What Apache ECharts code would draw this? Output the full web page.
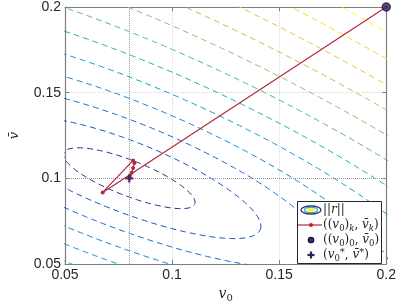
<!DOCTYPE html>
<html><head><meta charset="utf-8">
<script src="https://cdn.jsdelivr.net/npm/echarts@6/dist/echarts.min.js"></script>
<style>html,body{margin:0;padding:0;background:#fff}#c{width:399px;height:308px}</style>
</head><body><div id="c"></div>
<script>
// ---------------- data ----------------
const xTicks = [0.05, 0.1, 0.15, 0.2];          // v0 axis
const yTicks = [0.05, 0.1, 0.15, 0.2];          // vbar axis
// iterates ((v0)_k, vbar_k)
const iterV0   = [0.2, 0.0676, 0.0818, 0.0824, 0.0818, 0.0812, 0.0803, 0.0800];
const iterVbar = [0.2, 0.0918, 0.1105, 0.1090, 0.1061, 0.1033, 0.1014, 0.1002];
// start point ((v0)_0, vbar_0)
const startV0 = [0.2];
const startVbar = [0.2];
// solution (v0*, vbar*)
const trueV0 = [0.08];
const trueVbar = [0.1];
// contour levels of ||r||
const levels = [1, 2, 3, 4, 5, 6, 7, 8, 9, 10, 11, 12];
// model of ||r|| around the solution, estimated from the contour picture
const rowU = [28.55, -8.47];
const rowW = [43.74, 90.06];
const warpQ = 0.011;
const warpX = 0.017;

// ---------------- helpers ----------------
const parulaStops = ['#352A87','#0F5CDD','#1481D6','#06A4CA','#2EB7A4','#87BF77','#D1BB59','#FEC832','#F9FB0E'];
function hex2rgb(h){return [parseInt(h.slice(1,3),16),parseInt(h.slice(3,5),16),parseInt(h.slice(5,7),16)];}
function parula(t){
  t = Math.max(0, Math.min(1, t));
  const n = parulaStops.length - 1;
  const i = Math.min(n - 1, Math.floor(t * n));
  const f = t * n - i;
  const a = hex2rgb(parulaStops[i]), b = hex2rgb(parulaStops[i + 1]);
  const c = a.map((v, k) => Math.round(v + (b[k] - v) * f));
  return 'rgb(' + c.join(',') + ')';
}
// level set ||r|| = L of the model, traced around the solution
function contour(L){
  const a = rowU[0], b = rowU[1], c = rowW[0], d = rowW[1], det = a * d - b * c;
  const pts = [];
  const N = 720;
  for (let j = 0; j <= N; j++){
    const ph = 2 * Math.PI * j / N;
    const U = L * Math.cos(ph), Wh = L * Math.sin(ph);
    const p = 1 + warpX * U;
    const disc = p * p - 4 * warpQ * Wh;
    if (disc < 0) continue;
    const W = (p - Math.sqrt(disc)) / (2 * warpQ);
    const dx = (d * U - b * W) / det, dy = (-c * U + a * W) / det;
    pts.push([trueV0[0] + dx, trueVbar[0] + dy]);
  }
  return pts;
}

const AX = '#7f7f7f', TXT = '#262626', RED = '#b22a3e', NAVY = '#2f2163';
const SERIF = 'DejaVu Serif';
const lmin = Math.min(...levels), lmax = Math.max(...levels);

const series = [];
levels.forEach(L => {
  series.push({
    type: 'line', name: '||r||', data: contour(L), symbol: 'none', silent: true,
    lineStyle: { color: parula((L - lmin) / (lmax - lmin)), width: 1, type: [6, 4] },
    z: 1, animation: false, clip: true
  });
});
series.push({
  type: 'line', data: [], silent: true, z: 3,
  markLine: {
    silent: true, symbol: ['none', 'none'], label: { show: false }, animation: false,
    lineStyle: { color: '#9a9a9a', type: 'dotted', width: 1 },
    data: [{ xAxis: trueV0[0] }, { yAxis: trueVbar[0] }]
  }
});
series.push({
  type: 'line', name: 'iterates', data: iterV0.map((v, i) => [v, iterVbar[i]]),
  symbol: 'circle', symbolSize: 4, showAllSymbol: true,
  lineStyle: { color: RED, width: 1.2 }, itemStyle: { color: RED },
  z: 5, animation: false
});
series.push({
  type: 'scatter', name: 'start', data: startV0.map((v, i) => [v, startVbar[i]]),
  symbol: 'circle', symbolSize: 8, clip: false,
  itemStyle: { color: '#3b2c6b', borderColor: '#1f1540', borderWidth: 1.5 },
  z: 6, animation: false
});
series.push({
  type: 'scatter', name: 'solution', data: trueV0.map((v, i) => [v, trueVbar[i]]),
  symbol: 'path://M2.8,0H5.2V2.8H8V5.2H5.2V8H2.8V5.2H0V2.8H2.8Z', symbolSize: 8,
  itemStyle: { color: NAVY }, z: 6, animation: false
});

function valAxis(pos, ticks, show){
  return {
    type: 'value', position: pos, min: ticks[0], max: ticks[ticks.length - 1],
    interval: ticks[1] - ticks[0],
    axisLine: { show: true, onZero: false, lineStyle: { color: AX, width: 1.2 } },
    axisTick: { show: true, inside: true, length: 4, lineStyle: { color: AX, width: 1 } },
    axisLabel: { show: show, margin: 4, fontSize: 14, color: TXT, fontFamily: 'Liberation Sans' },
    splitLine: { show: show, lineStyle: { color: '#d8d8d8', type: 'dotted', width: 1 } }
  };
}
const xMain = valAxis('bottom', xTicks, true);
xMain.name = '{i|v}{s|0}';
xMain.nameLocation = 'middle';
xMain.nameGap = 20;
xMain.nameTextStyle = { rich: {
  i: { fontFamily: SERIF, fontStyle: 'italic', fontSize: 14, color: TXT, lineHeight: 18 },
  s: { fontFamily: SERIF, fontSize: 10, color: TXT, lineHeight: 10, verticalAlign: 'bottom' }
}};
const yMain = valAxis('left', yTicks, true);
yMain.name = 'v\u0304';
yMain.nameLocation = 'middle';
yMain.nameGap = 44;
yMain.nameRotate = 90;
yMain.nameTextStyle = { fontFamily: SERIF, fontStyle: 'italic', fontSize: 13, color: TXT };

const RN = { fontFamily: SERIF, fontSize: 12, lineHeight: 16, fill: TXT, color: TXT };
const RI = Object.assign({}, RN, { fontStyle: 'italic' });
const RS = { fontFamily: SERIF, fontSize: 8.5, lineHeight: 10, verticalAlign: 'bottom', fill: TXT, color: TXT };
const RSI = Object.assign({}, RS, { fontStyle: 'italic' });
const RP = { fontFamily: SERIF, fontSize: 10, lineHeight: 12, verticalAlign: 'top', fill: TXT, color: TXT };
const legRich = { n: RN, i: RI, s: RS, k: RSI, p: RP };
const legX = 323, icX = 311;
const rows = [210, 225, 240, 255];
function legText(y, t){
  return { type: 'text', z: 102, x: legX, y: y, style: { text: t, rich: legRich, align: 'left', verticalAlign: 'middle', fontFamily: SERIF, fontSize: 12, fill: TXT } };
}

const option = {
  backgroundColor: '#fff',
  animation: false,
  grid: { left: 53, right: 10, top: 7, bottom: 38, containLabel: false },
  xAxis: [xMain, valAxis('top', xTicks, false)],
  yAxis: [yMain, valAxis('right', yTicks, false)],
  series: series,
  graphic: { elements: [
    { type: 'rect', z: 100, shape: { x: 297.5, y: 201.5, width: 84, height: 62 }, style: { fill: '#fff', stroke: '#262626', lineWidth: 1 } },
    { type: 'ellipse', z: 101, shape: { cx: icX, cy: rows[0], rx: 10, ry: 4 }, style: { fill: 'none', stroke: parula(0), lineWidth: 1.3 } },
    { type: 'ellipse', z: 101, shape: { cx: icX, cy: rows[0], rx: 6.5, ry: 2.6 }, style: { fill: 'none', stroke: parula(0.5), lineWidth: 1.3 } },
    { type: 'ellipse', z: 101, shape: { cx: icX, cy: rows[0], rx: 3.2, ry: 1.2 }, style: { fill: parula(1), stroke: parula(1), lineWidth: 1 } },
    { type: 'line', z: 101, shape: { x1: 298, y1: rows[1], x2: 322, y2: rows[1] }, style: { stroke: RED, lineWidth: 1.2 } },
    { type: 'circle', z: 102, shape: { cx: icX, cy: rows[1], r: 2 }, style: { fill: RED } },
    { type: 'circle', z: 101, shape: { cx: icX, cy: rows[2], r: 2.6 }, style: { fill: '#3b2c6b', stroke: '#1f1540', lineWidth: 1.5 } },
    { type: 'line', z: 101, shape: { x1: icX - 3.5, y1: rows[3], x2: icX + 3.5, y2: rows[3] }, style: { stroke: NAVY, lineWidth: 2.2 } },
    { type: 'line', z: 101, shape: { x1: icX, y1: rows[3] - 3.5, x2: icX, y2: rows[3] + 3.5 }, style: { stroke: NAVY, lineWidth: 2.2 } },
    legText(rows[0], '{n|||}{i|r}{n|||}'),
    legText(rows[1], '{n|((}{i|v}{s|0}{n|)}{k|k}{n|, }{i|v\u0304}{k|k}{n|)}'),
    legText(rows[2], '{n|((}{i|v}{s|0}{n|)}{s|0}{n|, }{i|v\u0304}{s|0}{n|)}'),
    legText(rows[3], '{n|(}{i|v}{s|0}{p|*}{n|, }{i|v\u0304}{p|*}{n|)}')
  ]}
};

const chart = echarts.init(document.getElementById('c'), null, { renderer: 'canvas' });
chart.setOption(option);
</script>
</body></html>
